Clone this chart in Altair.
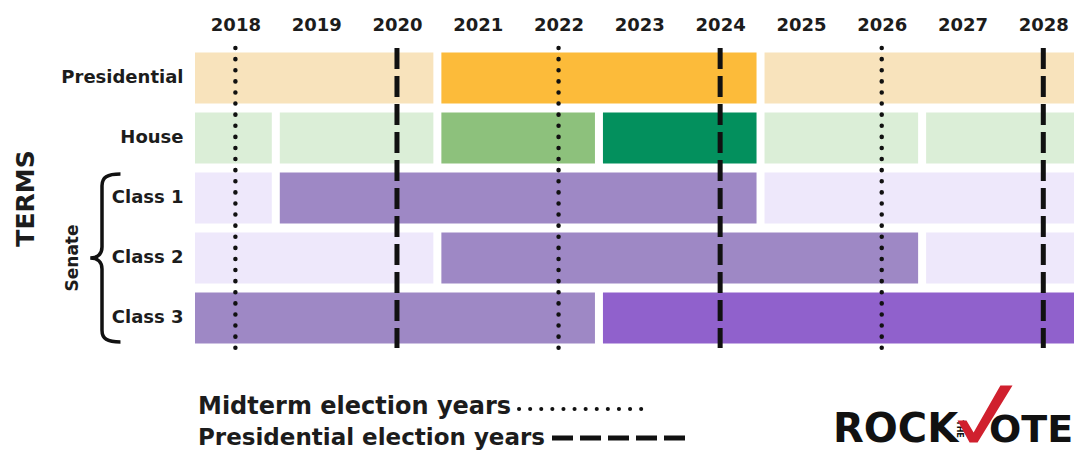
import altair as alt
import pandas as pd

# ---------------- data ----------------
rows = ["Presidential", "House", "Class 1", "Class 2", "Class 3"]
years = [2018, 2019, 2020, 2021, 2022, 2023, 2024, 2025, 2026, 2027, 2028]

seg_row = (["Presidential"] * 3 + ["House"] * 6 + ["Class 1"] * 3
           + ["Class 2"] * 3 + ["Class 3"] * 2)
seg_first = [2017, 2021, 2025,
             2017, 2019, 2021, 2023, 2025, 2027,
             2013, 2019, 2025,
             2015, 2021, 2027,
             2017, 2023]
seg_last = [2020, 2024, 2028,
            2018, 2020, 2022, 2024, 2026, 2028,
            2018, 2024, 2030,
            2020, 2026, 2032,
            2022, 2028]
seg_shade = ["P-light", "P-strong", "P-light",
             "H-light", "H-light", "H-mid", "H-strong", "H-light", "H-light",
             "S-light", "S-mid", "S-light",
             "S-light", "S-mid", "S-light",
             "S-mid", "S-strong"]

shade_keys = ["P-light", "P-strong", "H-light", "H-mid", "H-strong",
              "S-light", "S-mid", "S-strong"]
shade_colors = ["#F8E3BC", "#FCBB3A", "#DBEED7", "#8DC17C", "#03905D",
                "#EEE8FB", "#9E88C5", "#9061CC"]

midterm_years = [2018, 2022, 2026]
presidential_years = [2020, 2024, 2028]

legend_labels = ["Midterm election years", "Presidential election years"]
logo_parts = ["ROCK", "THE", "OTE"]

FONT = "DejaVu Sans"
INK = "#1c1c1c"

df = pd.DataFrame({"row": seg_row, "first": seg_first, "last": seg_last,
                   "shade": seg_shade})

x_scale = alt.Scale(domain=[2017.5, 2028.38], nice=False, zero=False)
y_scale = alt.Scale(domain=rows, paddingInner=0.15, paddingOuter=0.075)

bars = alt.Chart(df).transform_calculate(
    x0="datum.first - 0.5", x1="datum.last + 0.5"
).mark_bar(clip=True, xOffset=4, x2Offset=-4).encode(
    x=alt.X("x0:Q", scale=x_scale, title=None,
            axis=alt.Axis(orient="top", values=years, format="d",
                          labelFont=FONT, labelFontWeight="bold",
                          labelFontSize=18, labelColor=INK,
                          labelPadding=14, ticks=False, tickSize=0,
                          domain=False, grid=False)),
    x2="x1:Q",
    y=alt.Y("row:N", sort=rows, scale=y_scale,
            axis=alt.Axis(labelFont=FONT, labelFontWeight="bold",
                          labelFontSize=18, labelColor=INK, labelPadding=12,
                          ticks=False, domain=False, grid=False,
                          title="TERMS", titleFont=FONT, titleFontSize=25,
                          titleFontWeight="bold", titleColor=INK,
                          titleAngle=270, titleX=-170, titleY=150,
                          titleAlign="center", titleBaseline="middle")),
    color=alt.Color("shade:N", scale=alt.Scale(domain=shade_keys,
                                               range=shade_colors),
                    legend=None),
)

mid_rules = alt.Chart(pd.DataFrame({"year": midterm_years})).mark_rule(
    strokeDash=[0.1, 11], strokeCap="round", strokeWidth=4.5, color="#111"
).encode(x=alt.X("year:Q", scale=x_scale), y=alt.value(0), y2=alt.value(302))

pres_rules = alt.Chart(pd.DataFrame({"year": presidential_years})).mark_rule(
    strokeDash=[21, 7], strokeWidth=5, color="#111"
).encode(x=alt.X("year:Q", scale=x_scale), y=alt.value(0), y2=alt.value(300))

senate_df = pd.DataFrame({"row": ["Class 2"], "label": ["Senate"]})
senate_text = alt.Chart(senate_df).mark_text(
    angle=270, font=FONT, fontWeight="bold", fontSize=17, color=INK,
    align="center", baseline="middle"
).encode(y=alt.Y("row:N", sort=rows, scale=y_scale), x=alt.value(-122),
         text="label:N")

brace_path = ("M0.22,-1 C0.06,-1 0,-0.96 0,-0.86 L0,-0.13 "
              "C0,-0.05 -0.05,0 -0.14,0 C-0.05,0 0,0.05 0,0.13 "
              "L0,0.86 C0,0.96 0.06,1 0.22,1")
brace = alt.Chart(senate_df).mark_point(
    shape=brace_path, filled=False, strokeWidth=3.5, color="#111",
    opacity=1, size=28224
).encode(y=alt.Y("row:N", sort=rows, scale=y_scale), x=alt.value(-93))

leg_df = pd.DataFrame({"label": legend_labels})
leg_mid = alt.Chart(leg_df).transform_filter(
    alt.datum.label == legend_labels[0]
).mark_text(font=FONT, fontWeight="bold", fontSize=24, color=INK,
            align="left", baseline="alphabetic").encode(
    x=alt.value(3), y=alt.value(366), text="label:N")
leg_pres = alt.Chart(leg_df).transform_filter(
    alt.datum.label == legend_labels[1]
).mark_text(font=FONT, fontWeight="bold", fontSize=23, color=INK,
            align="left", baseline="alphabetic").encode(
    x=alt.value(3), y=alt.value(397), text="label:N")

leg_dots = alt.Chart(leg_df).transform_filter(
    alt.datum.label == legend_labels[0]
).mark_rule(strokeDash=[0.1, 11], strokeCap="round", strokeWidth=4,
            color="#111").encode(
    x=alt.value(324), x2=alt.value(454), y=alt.value(361))
leg_dash = alt.Chart(leg_df).transform_filter(
    alt.datum.label == legend_labels[1]
).mark_rule(strokeDash=[21, 7], strokeWidth=5, color="#111").encode(
    x=alt.value(357), x2=alt.value(494), y=alt.value(390))

logo_df = pd.DataFrame({"part": logo_parts})
logo_rock = alt.Chart(logo_df).transform_filter(
    alt.datum.part == "ROCK"
).mark_text(font=FONT, fontWeight="bold", fontSize=40, color="#111",
            align="left", baseline="alphabetic").encode(
    x=alt.value(638), y=alt.value(394), text="part:N")
logo_the = alt.Chart(logo_df).transform_filter(
    alt.datum.part == "THE"
).mark_text(font=FONT, fontWeight="bold", fontSize=8, color="#111",
            angle=90, align="center", baseline="middle").encode(
    x=alt.value(764), y=alt.value(381), text="part:N")
logo_ote = alt.Chart(logo_df).transform_filter(
    alt.datum.part == "OTE"
).mark_text(font=FONT, fontWeight="bold", fontSize=38, color="#111",
            align="left", baseline="alphabetic").encode(
    x=alt.value(794), y=alt.value(394), text="part:N")
check_path = ("M-0.965,0.228 L-0.65,0.228 L-0.40,0.65 L0.54,-1 "
              "L0.965,-1 L-0.26,1 L-0.54,1 Z")
logo_check = alt.Chart(logo_df).transform_filter(
    alt.datum.part == "THE"
).mark_point(shape=check_path, filled=True, color="#D0202E", opacity=1,
             size=3249, strokeWidth=0).encode(
    x=alt.value(790), y=alt.value(366))

chart = alt.layer(
    bars, mid_rules, pres_rules, senate_text, brace,
    leg_mid, leg_pres, leg_dots, leg_dash,
    logo_rock, logo_the, logo_ote, logo_check
).properties(
    width=879, height=300,
    autosize=alt.AutoSizeParams(type="none"),
    padding={"left": 187, "top": 40, "right": 0, "bottom": 105},
    background="white",
).configure_view(stroke=None)

chart.save("out.html", embed_options={"renderer": "svg", "actions": False})
